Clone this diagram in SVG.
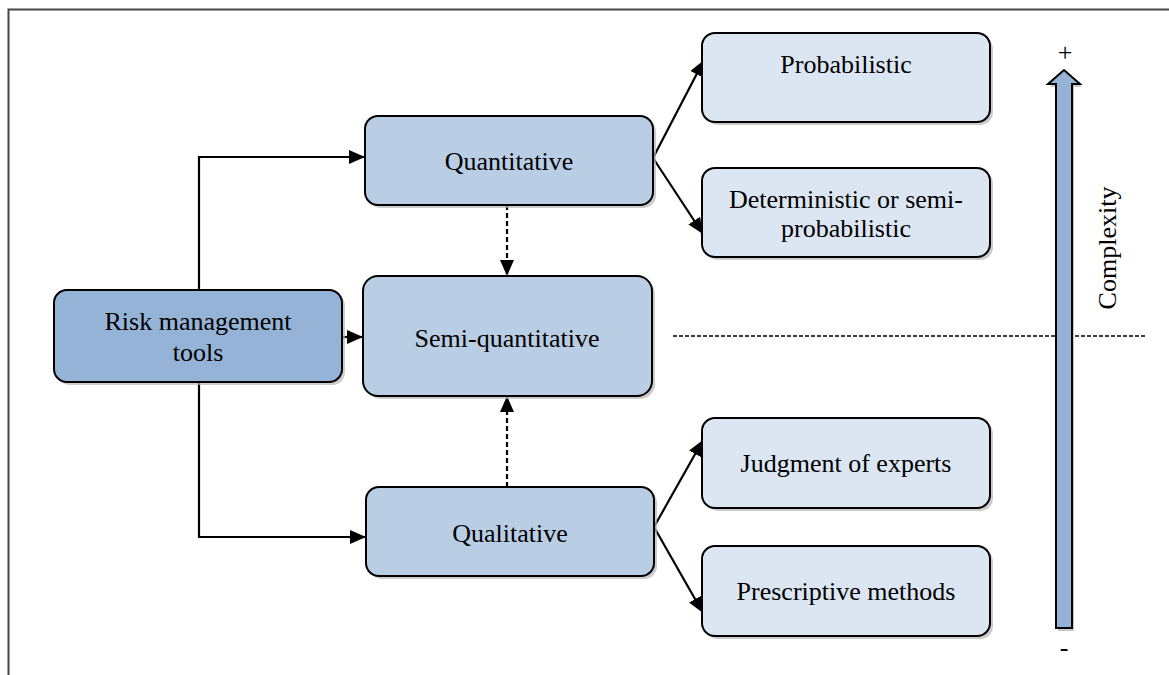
<svg xmlns="http://www.w3.org/2000/svg" width="1169" height="675" viewBox="0 0 1169 675" font-family="'Liberation Serif', 'DejaVu Serif', 'Times New Roman', serif">
  <style>
    .box { stroke: #000; stroke-width: 2; }
    .shadow { fill: #b5b5b5; opacity: 0.7; }
    .dark { fill: #95B3D7; }
    .mid { fill: #B9CDE5; }
    .light { fill: #DCE6F2; }
    .label { font-family: 'Liberation Serif', 'DejaVu Serif', 'Times New Roman', serif; font-size: 26px; fill: #000; text-anchor: middle; }
    .line { fill: none; stroke: #000; stroke-width: 2.2; }
    .dash { fill: none; stroke: #000; stroke-width: 2.2; stroke-dasharray: 5 3; }
    .thin-dash { fill: none; stroke: #000; stroke-width: 1.4; stroke-dasharray: 4 2; }
  </style>
  <defs>
    <marker id="arrow" viewBox="0 0 16 14" refX="16" refY="7" markerWidth="16" markerHeight="14" markerUnits="userSpaceOnUse" orient="auto">
      <path d="M0,0 L16,7 L0,14 Z" fill="#000"/>
    </marker>
  </defs>

  <rect width="1169" height="675" fill="#fff"/>
  <!-- page frame -->
  <path d="M8.5,675 V9.5 H1169" fill="none" stroke="#444" stroke-width="2"/>

  <!-- connectors -->
  <g id="connectors">
    <path class="line" d="M199,290 V157 H365" marker-end="url(#arrow)"/>
    <path class="line" d="M199,382 V537 H366" marker-end="url(#arrow)"/>
    <path class="line" d="M342,337 H363" marker-end="url(#arrow)"/>
    <path class="dash" d="M507,205 V276" marker-end="url(#arrow)"/>
    <path class="dash" d="M507,487 V396" marker-end="url(#arrow)"/>
    <path class="line" d="M653,158 L704,60" marker-end="url(#arrow)"/>
    <path class="line" d="M653,158 L703,234" marker-end="url(#arrow)"/>
    <path class="line" d="M654,527 L703,440" marker-end="url(#arrow)"/>
    <path class="line" d="M654,527 L703,613" marker-end="url(#arrow)"/>
    <path class="thin-dash" d="M673,336 H1145"/>
  </g>

  <!-- root -->
  <g id="risk-tools">
    <rect class="shadow" x="57" y="293" width="288" height="92" rx="13"/>
    <rect class="box dark" x="54" y="290" width="288" height="92" rx="13"/>
    <text class="label" x="198" y="330">Risk management</text>
    <text class="label" x="198" y="361">tools</text>
  </g>

  <g id="quantitative">
    <rect class="shadow" x="368" y="119" width="288" height="89" rx="13"/>
    <rect class="box mid" x="365" y="116" width="288" height="89" rx="13"/>
    <text class="label" x="509" y="170">Quantitative</text>
  </g>

  <g id="semi-quantitative">
    <rect class="shadow" x="366" y="279" width="289" height="120" rx="15"/>
    <rect class="box mid" x="363" y="276" width="289" height="120" rx="15"/>
    <text class="label" x="507" y="347">Semi-quantitative</text>
  </g>

  <g id="qualitative">
    <rect class="shadow" x="369" y="490" width="288" height="89" rx="13"/>
    <rect class="box mid" x="366" y="487" width="288" height="89" rx="13"/>
    <text class="label" x="510" y="542">Qualitative</text>
  </g>

  <g id="probabilistic">
    <rect class="shadow" x="705" y="36" width="288" height="89" rx="13"/>
    <rect class="box light" x="702" y="33" width="288" height="89" rx="13"/>
    <text class="label" x="846" y="73">Probabilistic</text>
  </g>

  <g id="deterministic">
    <rect class="shadow" x="705" y="171" width="288" height="89" rx="13"/>
    <rect class="box light" x="702" y="168" width="288" height="89" rx="13"/>
    <text class="label" x="846" y="208">Deterministic or semi-</text>
    <text class="label" x="846" y="237">probabilistic</text>
  </g>

  <g id="judgment">
    <rect class="shadow" x="705" y="421" width="288" height="90" rx="13"/>
    <rect class="box light" x="702" y="418" width="288" height="90" rx="13"/>
    <text class="label" x="846" y="472">Judgment of experts</text>
  </g>

  <g id="prescriptive">
    <rect class="shadow" x="705" y="549" width="288" height="90" rx="13"/>
    <rect class="box light" x="702" y="546" width="288" height="90" rx="13"/>
    <text class="label" x="846" y="600">Prescriptive methods</text>
  </g>

  <!-- complexity scale -->
  <g id="complexity">
    <path d="M1058,631 V87 H1050 L1066,72 L1082,87 H1074 V631 Z" class="shadow"/>
    <path d="M1056,628 V84 H1048 L1064,70 L1080,84 H1072 V628 Z" class="box dark"/>
    <text class="label" x="1065" y="61">+</text>
    <text class="label" x="1064" y="656">-</text>
    <text class="label" transform="translate(1116,248) rotate(-90)" x="0" y="0">Complexity</text>
  </g>
</svg>
